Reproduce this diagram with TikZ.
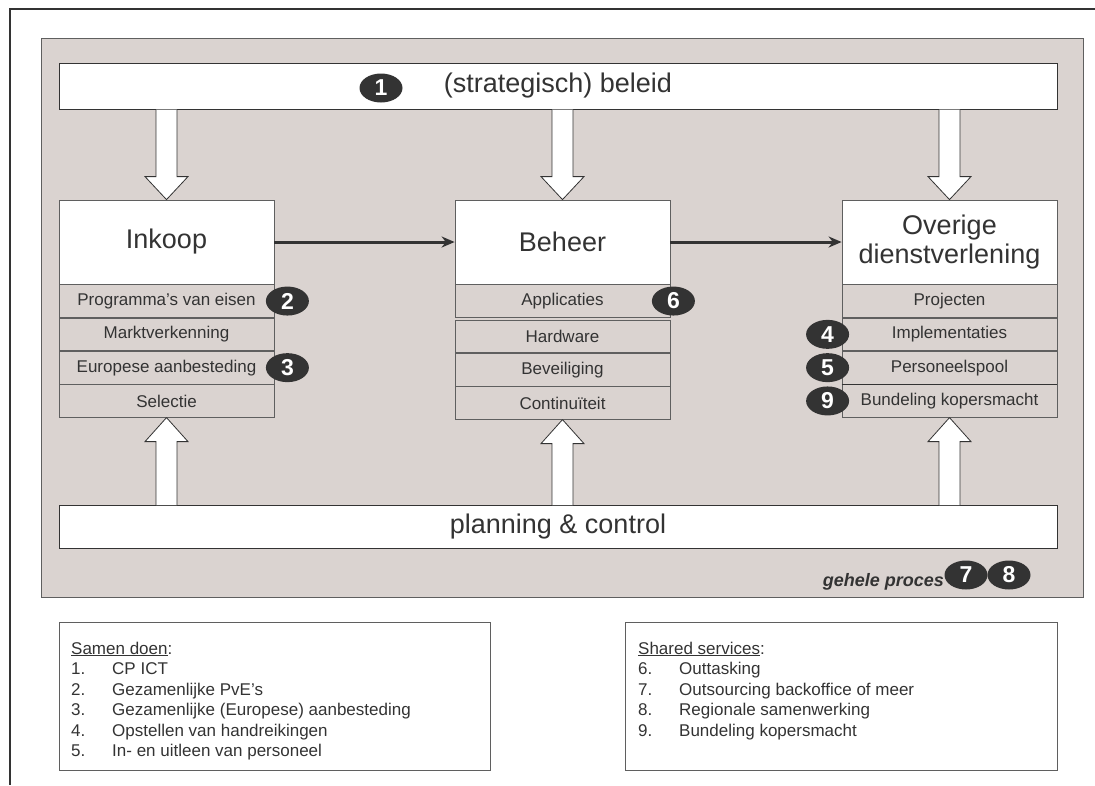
\documentclass[tikz,border=0pt]{standalone}
\usepackage{fontspec}
\setmainfont{Liberation Sans}
\usetikzlibrary{calc,shapes.geometric,arrows.meta}
\definecolor{ink}{RGB}{51,51,51}
\definecolor{panel}{RGB}{218,211,208}
\definecolor{edge}{RGB}{95,95,95}

% block arrow pointing down: #1 = start on the bar, #2 = tip
\newcommand\blockdown[2]{%
  \filldraw[blockarrow] ($(#1)+(-10.5,0)$) -- ($(#2)+(-10.5,-23)$) -- ($(#2)+(-21.5,-23)$)
    -- (#2) -- ($(#2)+(21.5,-23)$) -- ($(#2)+(10.5,-23)$) -- ($(#1)+(10.5,0)$);}
% block arrow pointing up: #1 = start on the bar, #2 = tip
\newcommand\blockup[2]{%
  \filldraw[blockarrow] ($(#1)+(-10.5,0)$) -- ($(#2)+(-10.5,24)$) -- ($(#2)+(-21.5,24)$)
    -- (#2) -- ($(#2)+(21.5,24)$) -- ($(#2)+(10.5,24)$) -- ($(#1)+(10.5,0)$);}

\begin{document}
\begin{tikzpicture}[x=1pt,y=-1pt,
  font=\fontsize{17}{20.5}\selectfont, text=ink,
  bar/.style={draw=ink, fill=white, line width=1pt, minimum width=998pt, inner sep=0pt,
    font=\fontsize{27}{30}\selectfont},
  head/.style={draw=edge, fill=white, line width=0.8pt, minimum width=215pt, minimum height=84pt,
    inner sep=0pt, align=center, font=\fontsize{27}{29}\selectfont},
  row/.style={draw=edge, fill=panel, line width=0.8pt, minimum width=215pt, minimum height=32.5pt,
    inner sep=0pt, anchor=north, font=\fontsize{17}{20}\selectfont},
  badge/.style={ellipse, fill=ink, text=white, minimum width=43pt, minimum height=29pt,
    inner sep=0pt, font=\fontsize{23}{23}\selectfont\bfseries},
  blockarrow/.style={draw=ink, fill=white, line width=0.8pt},
  flow/.style={draw=ink, line width=3pt, -{Stealth[length=13pt,width=11pt]}},
  listbox/.style={draw=edge, line width=0.8pt, minimum width=431pt, minimum height=148pt,
    inner sep=0pt, anchor=north west},
  listtext/.style={anchor=base west, inner sep=0pt},
]
\useasboundingbox (0,0) rectangle (1095,785);

% page frame: top and left edge
\draw[ink, line width=2pt] (1095,9) -- (10,9) -- (10,785);

% grey process panel
\node[draw=edge, fill=panel, line width=1pt, minimum width=1042pt, minimum height=559pt,
  anchor=north west, inner sep=0pt] (panel) at (41,38) {};

% policy bar
\node[bar, minimum height=46pt] (beleid) at (558,86) {(strategisch) beleid};
\node[badge] (n1) at (381,88) {1};

% three process blocks
\node[head] (inkoop) at (166.5,242) {Inkoop};
\node[row] (i1) at (inkoop.south) {Programma’s van eisen};
\node[row] (i2) at (i1.south) {Marktverkenning};
\node[row] (i3) at (i2.south) {Europese aanbesteding};
\node[row] (i4) at (i3.south) {Selectie};

\node[head] (beheer) at (562.5,242) {Beheer};
\node[row] (b1) at (beheer.south) {Applicaties};
\node[row] (b2) at ($(b1.south)+(0,2)$) {Hardware};
\node[row] (b3) at (b2.south) {Beveiliging};
\node[row] (b4) at (b3.south) {Continuïteit};

\node[head] (overige) at (949.5,242) {Overige\\dienstverlening};
\node[row] (o1) at (overige.south) {Projecten};
\node[row] (o2) at (o1.south) {Implementaties};
\node[row] (o3) at (o2.south) {Personeelspool};
\node[row] (o4) at (o3.south) {Bundeling kopersmacht};
\draw[ink, line width=1.6pt] (o4.north west) -- (o4.north east);

% planning bar
\node[bar, minimum height=43pt] (planning) at (558,527) {planning \& control};

% flows between the blocks
\draw[flow] (inkoop.east) -- (beheer.west);
\draw[flow] (beheer.east) -- (overige.west);

% policy steers every block
\coordinate (d1) at (inkoop.north |- beleid.south);
\coordinate (d2) at (beheer.north |- beleid.south);
\coordinate (d3) at (overige.north |- beleid.south);
\blockdown{d1}{inkoop.north}
\blockdown{d2}{beheer.north}
\blockdown{d3}{overige.north}

% planning & control feeds every block
\coordinate (u1) at (i4.south |- planning.north);
\coordinate (u2) at (b4.south |- planning.north);
\coordinate (u3) at (o4.south |- planning.north);
\blockup{u1}{i4.south}
\blockup{u2}{b4.south}
\blockup{u3}{o4.south}

% numbered markers
\node[badge] (n2) at ($(i1.east)+(13,0)$) {2};
\node[badge] (n3) at ($(i3.east)+(13,0)$) {3};
\node[badge] (n6) at ($(b1.east)+(3,0)$) {6};
\node[badge] (n4) at ($(o2.west)+(-14,0)$) {4};
\node[badge] (n5) at ($(o3.west)+(-14,0)$) {5};
\node[badge] (n9) at ($(o4.west)+(-14,0)$) {9};

% whole process
\node[anchor=base east, inner sep=0pt, font=\fontsize{18}{20}\selectfont\bfseries\itshape]
  (proces) at (944,586) {gehele proces};
\node[badge] (n7) at (966,575) {7};
\node[badge] (n8) at (1009,575) {8};

% legends
\node[listbox] (samen) at (59,622) {};
\node[listtext] (samentekst) at ($(samen.north west)+(12,32)$) {%
  \begin{tabular}[t]{@{}p{41pt}@{}l@{}}
  \multicolumn{2}{@{}l@{}}{\underline{Samen doen}:}\\
  1. & CP ICT\\
  2. & Gezamenlijke PvE’s\\
  3. & Gezamenlijke (Europese) aanbesteding\\
  4. & Opstellen van handreikingen\\
  5. & In- en uitleen van personeel
  \end{tabular}};

\node[listbox, minimum width=432pt] (shared) at (625,622) {};
\node[listtext] (sharedtekst) at ($(shared.north west)+(13,32)$) {%
  \begin{tabular}[t]{@{}p{41pt}@{}l@{}}
  \multicolumn{2}{@{}l@{}}{\underline{Shared services}:}\\
  6. & Outtasking\\
  7. & Outsourcing backoffice of meer\\
  8. & Regionale samenwerking\\
  9. & Bundeling kopersmacht
  \end{tabular}};
\end{tikzpicture}
\end{document}
